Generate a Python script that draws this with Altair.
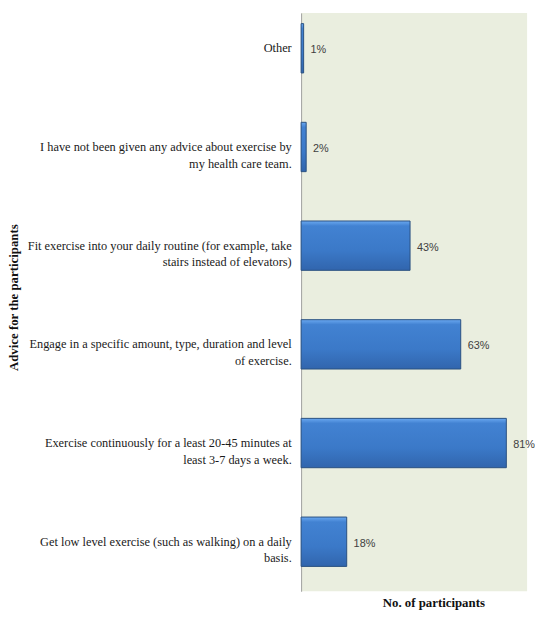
import altair as alt
import pandas as pd

categories = [
    ["Other"],
    ["I have not been given any advice about exercise by", "my health care team."],
    ["Fit exercise into your daily routine (for example, take", "stairs instead of elevators)"],
    ["Engage in a specific amount, type, duration and level", "of exercise."],
    ["Exercise continuously for a least 20-45 minutes at", "least 3-7 days a week."],
    ["Get low level exercise (such as walking) on a daily", "basis."],
]
values = [1, 2, 43, 63, 81, 18]
keys = ["c%d" % i for i in range(len(values))]

df = pd.DataFrame({
    "key": keys,
    "value": values,
    "label": [str(v) + "%" for v in values],
})

label_expr = "{" + ", ".join(
    "'%s': [%s]" % (k, ", ".join("'" + line + "'" for line in lines))
    for k, lines in zip(keys, categories)
) + "}[datum.value]"

y_enc = alt.Y(
    "key:N",
    sort=keys,
    scale=alt.Scale(paddingInner=0.5, paddingOuter=0.18, align=0.3),
    axis=alt.Axis(
        title="Advice for the participants",
        titleFont="Liberation Serif",
        titleFontSize=13,
        titleFontWeight="bold",
        titleColor="#111111",
        titleX=-291,
        titleY=288,
        titleAngle=-90,
        titleAlign="center",
        titleBaseline="middle",
        labelExpr=label_expr,
        labelFont="Liberation Serif",
        labelFontSize=12.5,
        labelColor="#1a1a1a",
        labelLineHeight=17,
        labelPadding=10,
        labelLimit=400,
        labelAlign="right",
        labelBaseline="middle",
        ticks=False,
        domain=True,
        domainColor="#a0a0a0",
        domainWidth=1,
        grid=False,
    ),
)

x_enc = alt.X(
    "value:Q",
    scale=alt.Scale(domain=[0, 89.2], nice=False, zero=True),
    axis=alt.Axis(
        title="No. of participants",
        titleFont="Liberation Serif",
        titleFontSize=13,
        titleFontWeight="bold",
        titleColor="#111111",
        titleX=134,
        titleY=11,
        titleAlign="center",
        titleBaseline="middle",
        labels=False,
        ticks=False,
        domain=False,
        grid=False,
    ),
)

bars = alt.Chart(df).mark_bar(
    color=alt.Gradient(
        gradient="linear",
        x1=0, x2=0, y1=0, y2=1,
        stops=[
            alt.GradientStop(color="#6aa8f0", offset=0),
            alt.GradientStop(color="#4282d2", offset=0.1),
            alt.GradientStop(color="#3b79c8", offset=0.6),
            alt.GradientStop(color="#3165ad", offset=1),
        ],
    ),
    stroke="#2a5080",
    strokeWidth=1,
).encode(x=x_enc, y=y_enc)

texts = alt.Chart(df).mark_text(
    align="left",
    baseline="middle",
    dx=7,
    dy=2,
    font="Liberation Sans",
    fontSize=11,
    color="#404040",
).encode(x="value:Q", y=alt.Y("key:N", sort=keys), text="label:N")

chart = alt.layer(bars, texts).properties(
    width=229,
    height=586,
    padding={"left": 0, "top": 1, "right": 0, "bottom": 0},
).configure_view(
    fill="#eaeedf",
    stroke=None,
)

chart.save("out.html", embed_options={"renderer": "svg", "actions": False})
